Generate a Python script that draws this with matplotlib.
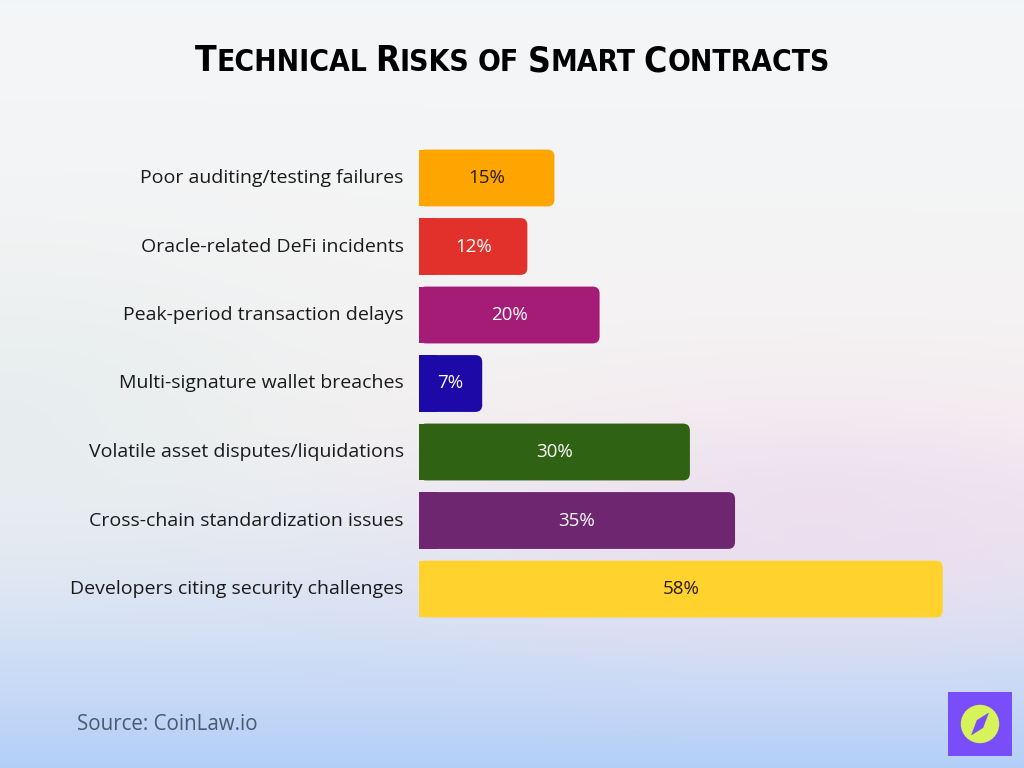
import numpy as np
import matplotlib.pyplot as plt
from matplotlib.patches import FancyBboxPatch, Rectangle, Circle, Polygon
from matplotlib.colors import to_rgb

categories = [
    "Poor auditing/testing failures",
    "Oracle-related DeFi incidents",
    "Peak-period transaction delays",
    "Multi-signature wallet breaches",
    "Volatile asset disputes/liquidations",
    "Cross-chain standardization issues",
    "Developers citing security challenges",
]
values = [15, 12, 20, 7, 30, 35, 58]
bar_colors = ["#FFA502", "#E2302A", "#A51C76", "#1D08A8", "#2F6212", "#6F2670", "#FFD22E"]
text_colors = ["#2a1a05", "white", "white", "white", "white", "white", "#2a1a05"]
title_words = ["Technical", "Risks", "of", "Smart", "Contracts"]

W, H = 1024, 768
fig = plt.figure(figsize=(W / 100, H / 100), dpi=100)

# background gradient
bg = fig.add_axes([0, 0, 1, 1])
yy, xx = np.mgrid[0:1:200j, 0:1:200j]
top = np.array(to_rgb("#F3F6F8"))
mid = np.array(to_rgb("#F5F2F1"))
bot = np.array(to_rgb("#B4CFF8"))
t = yy[..., None]
img = np.where(t < 0.55, top + (mid - top) * (t / 0.55), mid + (bot - mid) * ((t - 0.55) / 0.45) ** 1.3)
pink = np.array(to_rgb("#EEDCEE"))
blob = np.exp(-(((xx - 0.8) / 0.35) ** 2 + ((yy - 0.68) / 0.16) ** 2))[..., None] * 0.8
img = img * (1 - blob) + pink * blob
teal = np.array(to_rgb("#E2ECEE"))
blob2 = np.exp(-(((xx - 0.0) / 0.3) ** 2 + ((yy - 0.55) / 0.2) ** 2))[..., None] * 0.7
img = img * (1 - blob2) + teal * blob2
bg.imshow(img, extent=[0, 1, 0, 1], aspect="auto", origin="upper")
bg.set_xlim(0, 1)
bg.set_ylim(0, 1)
bg.axis("off")

# title, faux small caps
renderer = fig.canvas.get_renderer()
tkw = dict(fontweight="bold", family="DejaVu Sans", fontstretch="condensed", color="black")
big, small = 25.5, 21.5
parts = []
for j, w in enumerate(title_words):
    if w == "of":
        parts.append((w.upper(), small))
    else:
        parts.append((w[0], big))
        parts.append((w[1:].upper(), small))
    if j < len(title_words) - 1:
        parts.append((" ", small))
texts = []
widths = []
for s, fs in parts:
    tx = fig.text(0, 0, s, fontsize=fs, ha="left", va="baseline", **tkw)
    texts.append(tx)
    if s == " ":
        widths.append(fs * 0.28 * 100 / 72)
    else:
        widths.append(tx.get_window_extent(renderer).width)
total = sum(widths)
x0 = (W - total) / 2
base_y = 1 - 71 / H
for tx, wd in zip(texts, widths):
    tx.set_position((x0 / W, base_y))
    x0 += wd

# bars
xmax = 60
px_per_unit = 9.03
left = 419 / W
width = xmax * px_per_unit / W
row_px = 68.5
bottom = 1 - (589 + row_px / 2) / H
height = 7 * row_px / H
ax = fig.add_axes([left, bottom, width, height])
ax.set_xlim(0, xmax)
ax.set_ylim(6.5, -0.5)
ax.axis("off")

bh = 0.83
r = 7 / px_per_unit
aspect = (7 / row_px) / r
for i, (v, c, tc) in enumerate(zip(values, bar_colors, text_colors)):
    p = FancyBboxPatch((0, i - bh / 2), v, bh,
                       boxstyle=f"round,pad=0,rounding_size={r}",
                       mutation_aspect=aspect, fc=c, ec="none")
    ax.add_patch(p)
    ax.add_patch(Rectangle((0, i - bh / 2), min(v / 2, 2), bh, fc=c, ec="none"))
    ax.text(v / 2, i, f"{v}%", ha="center", va="center", fontsize=13.5,
            color=tc, family="Open Sans")
    ax.text(-1.7, i, categories[i], ha="right", va="center", fontsize=14,
            color="#1a1a1a", family="Open Sans", clip_on=False)

# source
fig.text(77 / W, 1 - 724 / H, "Source: CoinLaw.io", ha="left", va="center",
         fontsize=14.8, color="#4a5a70", family="Open Sans")

# logo
lg = fig.add_axes([948 / W, 1 - 756 / H, 64 / W, 64 / H])
lg.set_xlim(0, 1)
lg.set_ylim(0, 1)
lg.axis("off")
lg.add_patch(Rectangle((0, 0), 1, 1, fc="#7A4DFA", ec="none"))
lg.add_patch(Circle((0.5, 0.5), 0.3, fc="#D6F35A", ec="none"))
lg.add_patch(Polygon([[0.64, 0.68], [0.55, 0.44], [0.36, 0.32], [0.45, 0.56]],
                     fc="#7A4DFA", ec="none"))

fig.savefig("out.png", dpi=100)
